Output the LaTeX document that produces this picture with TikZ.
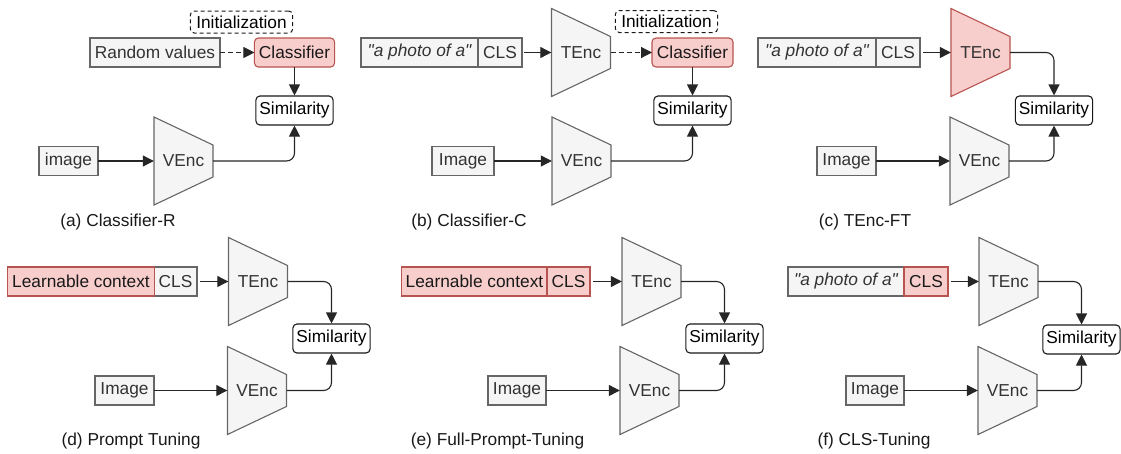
\documentclass[tikz,border=0pt]{standalone}
\usepackage{fontspec}
\setmainfont{Liberation Sans}
\usepackage{xcolor}
\usetikzlibrary{arrows.meta}

\definecolor{boxgray}{HTML}{F5F5F5}
\definecolor{linegray}{HTML}{666666}
\definecolor{txtgray}{HTML}{333333}
\definecolor{trainred}{HTML}{F8CECC}
\definecolor{linered}{HTML}{B85450}

\tikzset{
  box/.style={draw=linegray, fill=boxgray, text=txtgray, line width=1.1pt, minimum height=29pt, inner xsep=4.5pt, outer sep=0pt},
  redbox/.style={box, draw=linered, fill=trainred, text=black!90},
  simbox/.style={draw=black!90, fill=white, rounded corners=4pt, line width=1.1pt, minimum height=29pt, inner xsep=3.5pt},
  initbox/.style={draw=black!90, dash pattern=on 4pt off 3pt, rounded corners=4pt, line width=1pt, minimum height=22pt, inner xsep=6pt},
  enc/.style={minimum width=59pt, minimum height=32pt, inner sep=0pt, text=txtgray},
  encgray/.style={draw=linegray, fill=boxgray, line width=1.1pt},
  encred/.style={draw=linered, fill=trainred, line width=1.1pt},
  arr/.style={-{Triangle[length=11pt,width=11pt]}, line width=1.1pt, draw=black!85},
  caption/.style={text=black!90}
}

% trapezoid encoder: #2 name, #3 centre, #4 label
\newcommand{\encoder}[4][encgray]{%
  \draw[#1, shift={(#3)}] (-29.5,-44) -- (29.5,-16) -- (29.5,16) -- (-29.5,44) -- cycle;
  \node[enc] (#2) at (#3) {#4};
}
\newcommand{\prompttxt}{\itshape\textquotedbl a photo of a\textquotedbl}

\begin{document}
\begin{tikzpicture}[x=1pt, y=-1pt, every node/.style={font=\fontsize{17.3}{20}\selectfont}]
\useasboundingbox (0,0) rectangle (1121,453);

% (a) Classifier-R
\node[initbox] (init-a) at (241.5,22) {Initialization};
\node[box, minimum width=130pt] (rand-a) at (155,52.5) {Random values};
\node[redbox, rounded corners=4pt, minimum width=79pt] (clf-a) at (294.5,52.5) {Classifier};
\node[simbox] (sim-a) at (294.5,110.5) {Similarity};
\node[box, minimum width=59pt] (img-a) at (68.5,161) {image};
\encoder{venc-a}{183.5,161}{VEnc}
\draw[arr, dash pattern=on 5pt off 3pt] (rand-a) -- (clf-a);
\draw[arr] (clf-a) -- (sim-a);
\draw[arr] (img-a) -- (venc-a);
\draw[arr, rounded corners=8pt] (venc-a.east) -| (sim-a.south);

% (b) Classifier-C
\node[box, minimum width=117pt] (txt-b) at (419.5,52.5) {\prompttxt};
\node[box, minimum width=44pt] (cls-b) at (500,52.5) {CLS};
\encoder{tenc-b}{581,52.5}{TEnc}
\node[initbox] (init-b) at (666.5,21.5) {Initialization};
\node[redbox, rounded corners=4pt, minimum width=81pt] (clf-b) at (692.5,52.5) {Classifier};
\node[simbox] (sim-b) at (692.5,110.5) {Similarity};
\node[box, minimum width=62pt] (img-b) at (463,161) {Image};
\encoder{venc-b}{581.5,161}{VEnc}
\draw[arr, shorten <=2pt] (cls-b) -- (tenc-b);
\draw[arr, dash pattern=on 5pt off 3pt] (tenc-b) -- (clf-b);
\draw[arr] (clf-b) -- (sim-b);
\draw[arr] (img-b) -- (venc-b);
\draw[arr, rounded corners=8pt] (venc-b.east) -| (sim-b.south);

% (c) TEnc-FT
\node[box, minimum width=118pt] (txt-c) at (817,52.5) {\prompttxt};
\node[box, minimum width=44pt] (cls-c) at (898,52.5) {CLS};
\encoder[encred]{tenc-c}{980.5,52.5}{TEnc}
\node[simbox] (sim-c) at (1054,110.5) {Similarity};
\node[box, minimum width=59pt] (img-c) at (846.5,161) {Image};
\encoder{venc-c}{979.5,161}{VEnc}
\draw[arr, shorten <=3pt] (cls-c) -- (tenc-c);
\draw[arr, rounded corners=8pt] (tenc-c.east) -| (sim-c.north);
\draw[arr] (img-c) -- (venc-c);
\draw[arr, rounded corners=8pt] (venc-c.east) -| (sim-c.south);

% (d) Prompt Tuning
\node[box, minimum width=43pt] (cls-d) at (175.5,281.5) {CLS};
\node[redbox, minimum width=146pt] (ctx-d) at (81,281.5) {Learnable context};
\encoder{tenc-d}{258,281.5}{TEnc}
\node[simbox] (sim-d) at (331.5,338.5) {Similarity};
\node[box, minimum width=59pt] (img-d) at (124.5,390.5) {Image};
\encoder{venc-d}{257,390.5}{VEnc}
\draw[arr, shorten <=3pt] (cls-d) -- (tenc-d);
\draw[arr, rounded corners=8pt] (tenc-d.east) -| (sim-d.north);
\draw[arr] (img-d) -- (venc-d);
\draw[arr, rounded corners=8pt] (venc-d.east) -| (sim-d.south);

% (e) Full-Prompt-Tuning
\node[redbox, minimum width=145pt] (ctx-e) at (474.5,281.5) {Learnable context};
\node[redbox, minimum width=43pt] (cls-e) at (568.5,281.5) {CLS};
\encoder{tenc-e}{651.5,281.5}{TEnc}
\node[simbox] (sim-e) at (724.5,338.5) {Similarity};
\node[box, minimum width=58pt] (img-e) at (517,390.5) {Image};
\encoder{venc-e}{649.5,390.5}{VEnc}
\draw[arr, shorten <=3pt] (cls-e) -- (tenc-e);
\draw[arr, rounded corners=8pt] (tenc-e.east) -| (sim-e.north);
\draw[arr] (img-e) -- (venc-e);
\draw[arr, rounded corners=8pt] (venc-e.east) -| (sim-e.south);

% (f) CLS-Tuning
\node[box, minimum width=116pt] (txt-f) at (846,281.5) {\prompttxt};
\node[redbox, minimum width=44pt] (cls-f) at (926,281.5) {CLS};
\encoder{tenc-f}{1008.5,281.5}{TEnc}
\node[simbox] (sim-f) at (1081.5,339.5) {Similarity};
\node[box, minimum width=58pt] (img-f) at (875,390.5) {Image};
\encoder{venc-f}{1007.5,390.5}{VEnc}
\draw[arr, shorten <=3pt] (cls-f) -- (tenc-f);
\draw[arr, rounded corners=8pt] (tenc-f.east) -| (sim-f.north);
\draw[arr] (img-f) -- (venc-f);
\draw[arr, rounded corners=8pt] (venc-f.east) -| (sim-f.south);

% Captions
\foreach \n/\x/\y/\t in {a/118/222/{(a) Classifier-R}, b/469/222/{(b) Classifier-C}, c/865/222/{(c) TEnc-FT},
                         d/131/441/{(d) Prompt Tuning}, e/497.5/441/{(e) Full-Prompt-Tuning}, f/874/441/{(f) CLS-Tuning}} {
    \node[caption] (cap-\n) at (\x,\y) {\t};
}
\end{tikzpicture}
\end{document}
